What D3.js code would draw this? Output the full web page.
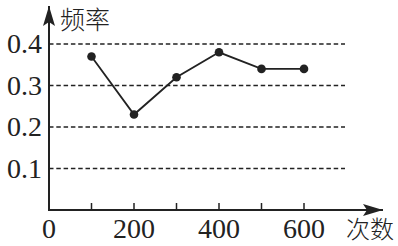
<!DOCTYPE html>
<html>
<head>
<meta charset="utf-8">
<script src="https://cdn.jsdelivr.net/npm/d3@7"></script>
<style>
	body { margin: 0; background: #fff; }
	svg { display: block; }
</style>
</head>
<body>
<svg id="chart" width="398" height="246"></svg>
<script>
// Data.
let counts = [100, 200, 300, 400, 500, 600];
let freqs = [0.37, 0.23, 0.32, 0.38, 0.34, 0.34];
let yticks = [0.1, 0.2, 0.3, 0.4];
let xtickmarks = [100, 200, 300, 400, 500, 600];
let xlabels = [0, 200, 400, 600];

let ink = "#222";
let serif = "'Liberation Serif', 'Times New Roman', serif";
let cjk = "'Noto Sans CJK SC', 'Noto Sans CJK JP', sans-serif";

let svg = d3.select("#chart");

// Scales: origin at (49, 210).
let x = d3.scaleLinear().domain([0, 600]).range([49, 304]);
let y = d3.scaleLinear().domain([0, 0.4]).range([210, 44]);

let gridEnd = 345;

// arrow head
svg.append("defs").append("marker")
  .attr("id", "arrow")
  .attr("viewBox", "0 0 20 12")
  .attr("refX", 20).attr("refY", 6)
  .attr("markerWidth", 20).attr("markerHeight", 12)
  .attr("markerUnits", "userSpaceOnUse")
  .attr("orient", "auto")
  .append("path")
  .attr("d", "M0,0 L20,6 L0,12 L4,6 Z")
  .attr("fill", ink);

// dashed grid lines
svg.append("g")
  .selectAll("line")
  .data(yticks)
  .join("line")
  .attr("x1", x(0)).attr("x2", gridEnd)
  .attr("y1", d => y(d)).attr("y2", d => y(d))
  .attr("stroke", ink)
  .attr("stroke-width", 1.6)
  .attr("stroke-dasharray", "4.5,2.8");

// axes
svg.append("line")
  .attr("x1", x(0)).attr("y1", y(0))
  .attr("x2", 383).attr("y2", y(0))
  .attr("stroke", ink).attr("stroke-width", 2)
  .attr("marker-end", "url(#arrow)");

svg.append("line")
  .attr("x1", x(0)).attr("y1", y(0) + 1)
  .attr("x2", x(0)).attr("y2", 6)
  .attr("stroke", ink).attr("stroke-width", 2)
  .attr("marker-end", "url(#arrow)");

// x tick marks
svg.append("g")
  .selectAll("line")
  .data(xtickmarks)
  .join("line")
  .attr("x1", d => x(d)).attr("x2", d => x(d))
  .attr("y1", y(0)).attr("y2", y(0) - 7)
  .attr("stroke", ink).attr("stroke-width", 1.5);

// tick labels
svg.append("g")
  .selectAll("text")
  .data(yticks)
  .join("text")
  .attr("x", 42)
  .attr("y", d => y(d) + 9)
  .attr("text-anchor", "end")
  .attr("font-family", serif)
  .attr("font-size", 28)
  .attr("fill", ink)
  .text(d => d.toFixed(1));

svg.append("g")
  .selectAll("text")
  .data(xlabels)
  .join("text")
  .attr("x", d => x(d))
  .attr("y", 238)
  .attr("text-anchor", "middle")
  .attr("font-family", serif)
  .attr("font-size", 28)
  .attr("fill", ink)
  .text(d => d);

// axis titles
svg.append("text")
  .attr("x", 60).attr("y", 29)
  .attr("font-family", cjk).attr("font-size", 25).attr("font-weight", 300)
  .attr("fill", ink)
  .text("频率");
svg.append("text")
  .attr("x", 346).attr("y", 238)
  .attr("font-family", cjk).attr("font-size", 24).attr("font-weight", 300)
  .attr("fill", ink)
  .text("次数");

// data line and points
let line = d3.line().x((d, i) => x(counts[i])).y(d => y(d));

svg.append("path")
  .attr("d", line(freqs))
  .attr("fill", "none")
  .attr("stroke", ink)
  .attr("stroke-width", 1.8);

svg.append("g")
  .selectAll("circle")
  .data(freqs)
  .join("circle")
  .attr("cx", (d, i) => x(counts[i]))
  .attr("cy", d => y(d))
  .attr("r", 4.3)
  .attr("fill", ink);
</script>
</body>
</html>
